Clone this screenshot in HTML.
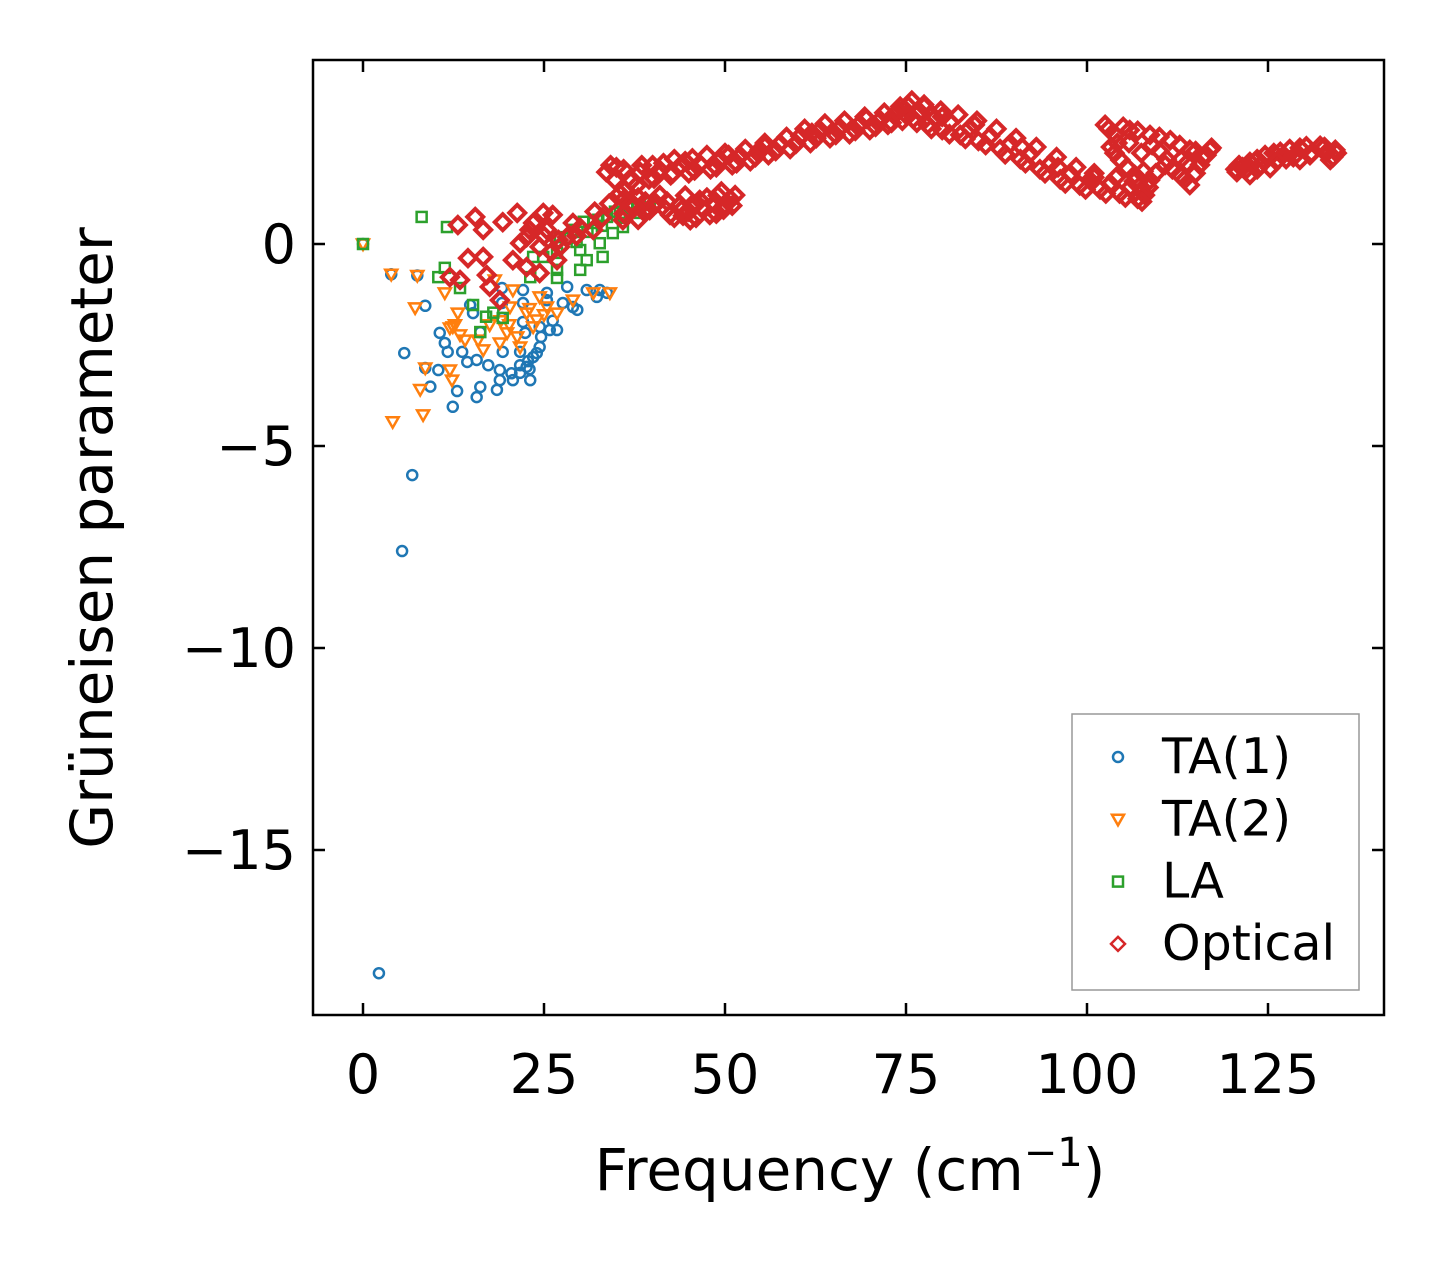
<!DOCTYPE html>
<html><head><meta charset="utf-8"><style>
body{margin:0;background:#fff}
svg text{font-family:"DejaVu Sans","Liberation Sans",sans-serif;fill:#000}
</style></head><body>
<svg id="chart" width="1443" height="1264" viewBox="0 0 1443 1264" xmlns="http://www.w3.org/2000/svg">
<rect width="1443" height="1264" fill="#fff"/>
<g id="marks"></g>
<rect x="313" y="60" width="1071" height="955" fill="none" stroke="#000" stroke-width="2.5"/>
<g id="axes"></g>
<text x="850" y="1190" font-size="58" text-anchor="middle">Frequency (cm<tspan font-size="40" dy="-24">−1</tspan><tspan dy="24">)</tspan></text>
<text transform="translate(112,538) rotate(-90)" font-size="58" text-anchor="middle">Grüneisen parameter</text>
<g>
<rect x="1072" y="714" width="287" height="276" fill="#fff" stroke="#999" stroke-width="1.5"/>
<g id="legend-items"></g>
</g>
</svg>
<script>
const xTicks=[0,25,50,75,100,125];
const yTicks=[0,-5,-10,-15];
const ta1=[[0,0],[3.9,-0.75],[7.5,-0.78],[2.2,-18.05],[5.4,-7.6],[6.8,-5.72],[5.7,-2.7],[8.6,-1.53],[8.6,-3.07],[9.3,-3.53],[10.4,-3.12],[12.4,-4.03],[13,-3.64],[10.6,-2.2],[11.3,-2.45],[11.7,-2.67],[13.7,-2.67],[14.4,-2.92],[15.7,-2.87],[16.2,-3.54],[15.7,-3.79],[18.5,-3.61],[17.3,-3.0],[19.3,-2.67],[21.7,-2.67],[18.9,-3.12],[18.9,-3.37],[20.7,-3.37],[21.7,-3.19],[22.6,-3.04],[23.5,-2.8],[24.4,-2.55],[16.2,-2.18],[14.8,-1.51],[15.2,-1.71],[19.2,-1.09],[19.2,-1.46],[19.2,-1.83],[22.1,-1.14],[22.1,-1.46],[22.1,-1.93],[22.4,-2.2],[24.4,-2.05],[25.8,-2.13],[26.8,-2.13],[25.4,-1.21],[25.4,-1.39],[28.2,-1.06],[27.6,-1.46],[29.6,-1.63],[29,-1.56],[30.9,-1.14],[32.7,-1.14],[33.7,-1.21],[32.3,-1.31],[21.7,-3.0],[23.1,-3.37],[24,-2.7],[23,-3.1],[22.8,-2.9],[24.6,-2.3],[26.2,-1.9],[20.5,-3.2]];
const ta2=[[0,0],[3.9,-0.75],[7.5,-0.78],[7.2,-1.58],[8.6,-3.07],[7.9,-3.6],[8.3,-4.23],[4.1,-4.4],[12,-3.12],[12.3,-3.37],[12,-2.08],[12.7,-2.0],[13.4,-2.25],[11.3,-1.21],[13.1,-1.71],[12.4,-2.05],[14.1,-2.38],[16.6,-2.62],[18.2,-0.89],[20.7,-1.14],[20.3,-1.56],[19.9,-2.2],[22.6,-1.71],[24,-1.88],[25.4,-1.56],[26.8,-1.71],[29,-1.39],[31.8,-1.21],[34.1,-1.21],[21.7,-2.55],[18.9,-2.45],[15.9,-2.38],[24.4,-1.31],[23.5,-2.05],[21.3,-2.3],[17.5,-2.0],[19,-1.9],[23,-1.6],[25,-1.75],[20.2,-2.0]];
const la=[[0,0],[8.1,0.67],[11.6,0.42],[11.3,-0.59],[10.4,-0.82],[13.4,-1.09],[15.2,-1.51],[16.2,-2.18],[19.3,-1.83],[17,-1.8],[18,-1.7],[23.5,-0.32],[24.9,-0.32],[26.8,-0.22],[26.8,-0.64],[26.8,-0.84],[23.1,-0.82],[28.2,0.15],[30,-0.15],[30,-0.64],[32.7,0.02],[33.1,-0.32],[30.9,-0.4],[31.8,0.52],[33.7,0.67],[35.5,0.77],[37.3,0.89],[39.6,1.01],[38.3,0.77],[35.9,0.42],[34.5,0.27],[29,0.35],[27.2,0.17],[32.5,0.6],[34.8,0.8],[36.5,0.95],[31,0.3],[29.5,0.05],[33,0.45],[36,0.65],[38,0.9],[30.5,0.55]];
const optical=[[33.6,1.78],[34.8,1.58],[36.2,1.34],[38.3,1.78],[41.0,1.83],[43.8,1.93],[46.5,1.98],[49.3,2.08],[52.1,2.18],[54.8,2.33],[57.6,2.48],[60.4,2.67],[63.1,2.82],[65.9,2.87],[68.6,2.97],[71.4,3.07],[73.5,3.22],[75.3,3.42],[76.9,3.27],[79.0,3.12],[81.1,3.02],[83.8,2.87],[86.6,2.67],[89.4,2.48],[92.1,2.23],[94.9,1.98],[97.7,1.73],[100.4,1.58],[103.2,1.49],[105.9,1.39],[108.0,1.21],
[35,1.9],[37,1.55],[39.5,1.6],[42.5,1.7],[45,1.75],[48,1.85],[51,1.95],[53.5,2.05],[56,2.2],[59,2.35],[61.8,2.5],[64.5,2.62],[67.2,2.72],[70,2.82],[72.5,2.95],[74.5,3.05],[76,3.1],[78,2.95],[80,2.82],[82.5,2.7],[85,2.55],[88,2.35],[90.8,2.1],[93.5,1.85],[96.3,1.6],[99,1.45],[101.8,1.35],[104.5,1.25],[107,1.12],
[40,1.95],[44.5,2.05],[50.5,2.2],[55.5,2.42],[62,2.75],[69.5,3.1],[74,3.3],[77.5,3.4],[80,3.15],[84.5,2.95],[91,2.4],[96,1.9],[101,1.65],
[34.2,1.95],[36,1.85],[38.5,1.95],[41.5,2.0],[43,2.1],[45.5,2.12],[47.5,2.2],[50,2.25],[52.8,2.35],[55.5,2.5],[58.5,2.65],[61,2.85],[63.8,2.98],[66.5,3.05],[69.3,3.15],[72,3.25],[74.2,3.4],[75.8,3.55],[77.5,3.45],[79.8,3.3],[82.2,3.2],[84.8,3.05],[87.5,2.85],[90.2,2.62],[93,2.4],[95.8,2.15],[98.5,1.9],[101,1.75],[104,1.65],[106.5,1.55],[108.5,1.4],
[35.5,1.25],[37.8,1.45],[40.2,1.62],[42.8,1.75],[45.8,1.82],[48.8,1.9],[51.6,2.0],[54.2,2.15],[57,2.3],[59.8,2.48],[62.6,2.62],[65.3,2.7],[68,2.8],[70.8,2.9],[73,3.0],[75,3.2],[76.5,3.0],[78.5,2.85],[81,2.72],[83.2,2.6],[86,2.45],[88.7,2.22],[91.5,2.0],[94.2,1.75],[97,1.5],[99.8,1.35],[102.6,1.25],[105.3,1.15],[107.6,1.05],
[102.5,2.95],[103.9,2.70],[105.9,2.82],[108.7,2.70],[111.5,2.57],[114.2,2.33],[117,2.33],[104.6,2.08],[106.6,1.71],[108.7,1.58],[110.8,1.96],[112.8,1.71],[114.2,1.46],[115.6,1.96],[103.3,2.4],[107.5,2.25],[110,2.3],[113,2.1],[116,2.15],
[103,2.85],[104.2,2.5],[105,2.9],[107,2.8],[110,2.65],[112.8,2.45],[115,2.3],[116.5,2.2],[105.5,1.9],[107.8,1.8],[109.5,1.75],[111.8,1.85],[113.5,1.6],[115,1.75],[103.8,2.25],[105.8,2.5],[109,2.45],[111,2.1],[113.8,2.0],[117.2,2.38],
[120.7,1.78],[122.5,2.03],[124.6,2.20],[126.7,2.28],[129.4,2.38],[132.2,2.43],[134.3,2.33],[122.5,1.71],[125.3,1.88],[129.4,2.08],[133.6,2.08],[121.5,1.9],[123.5,1.85],[127.5,2.1],[131,2.25],[134,2.15],
[121,1.95],[122,1.85],[123.5,2.1],[124,1.95],[125.8,2.25],[126.2,2.05],[128,2.35],[128.5,2.15],[130.3,2.42],[130.8,2.2],[132.8,2.4],[133,2.25],[134.5,2.25],[120.5,1.85],
[36.9,0.97],[39.6,0.84],[42.4,0.72],[45.2,0.59],[47.9,0.72],[50,0.97],[51.4,1.21],[46.5,1.09],[41,1.21],[43.8,0.97],[38,1.15],[44.5,1.2],[48.5,1.0],[49.5,1.3],[45,0.8],[40.5,1.0],
[36,1.1],[37.5,0.95],[38.8,0.8],[40,0.95],[41.8,0.85],[43,0.65],[44.2,0.7],[46,0.65],[47,0.85],[48.8,0.75],[49.8,0.85],[50.8,1.1],[51,0.95],[42,1.05],[45.8,0.95],[47.5,1.15],[49,1.2],[39,1.05],[44,0.85],
[13.1,0.47],[15.5,0.67],[16.6,0.35],[19.3,0.54],[21.3,0.77],[24.9,0.77],[26.2,0.72],[14.5,-0.35],[16.6,-0.32],[20.7,-0.40],[17.1,-0.77],[12,-0.82],[13.4,-0.89],[17.5,-1.06],[18.9,-1.39],[22.6,0.17],[21.7,0.02],[24.4,-0.07],[22.6,-0.57],[24.4,-0.72],[26.8,-0.40],[23.5,0.52],[29,0.52],[27.2,-0.07],[31.8,0.35],[35.9,0.59],[25.4,0.35],[28.2,0.17],[30,0.4],[32,0.8],[34,1.0],[36,0.75],[38,0.6],[27,0.1],[25,0.2],[23,0.35],[26,-0.2],[29.5,0.2],[33,0.65]];

const X=v=>363+v*7.24, Y=v=>244-v*40.4;
const NS='http://www.w3.org/2000/svg';
const marks=document.getElementById('marks');
function mk(tag,attrs,parent){const e=document.createElementNS(NS,tag);for(const k in attrs)e.setAttribute(k,attrs[k]);parent.appendChild(e);return e;}
function marker(kind,cx,cy,color,parent,big){
  let e;
  if(kind==='o') e=mk('circle',{cx:cx,cy:cy,r:5,fill:'none',stroke:color,'stroke-width':2.5},parent);
  else if(kind==='v') e=mk('polygon',{points:`${cx-6},${cy-4.5} ${cx+6},${cy-4.5} ${cx},${cy+6}`,fill:'none',stroke:color,'stroke-width':2.5},parent);
  else if(kind==='s') e=mk('rect',{x:cx-5,y:cy-5,width:10,height:10,fill:'none',stroke:color,'stroke-width':2.5},parent);
  else {const s=big?8:7; e=mk('polygon',{points:`${cx},${cy-s} ${cx+s},${cy} ${cx},${cy+s} ${cx-s},${cy}`,fill:'none',stroke:color,'stroke-width':big?4:2.5},parent);}
  return e;
}
const series=[['optical',optical,'d','#d62728'],['ta1',ta1,'o','#1f77b4'],['ta2',ta2,'v','#ff7f0e'],['la',la,'s','#2ca02c']];
const order=[1,2,3,0];
order.forEach(i=>{const [nm,arr,k,c]=series[i];
  const g=mk('g',{},marks);
  
  
  arr.forEach(p=>{const e=marker(k,X(p[0]),Y(p[1]),c,g,true);
    
    
  });
});
const axes=document.getElementById('axes');
xTicks.forEach(t=>{const x=X(t);
  const l=mk('path',{d:`M${x},1015 v-12 M${x},60 v12`,stroke:'#000','stroke-width':2.5},axes);
  
  
  const tx=mk('text',{x:x,y:1093,'font-size':54,'text-anchor':'middle'},axes);tx.textContent=String(t);
  
  
});
yTicks.forEach(t=>{const y=Y(t);
  const l=mk('path',{d:`M313,${y} h12 M1384,${y} h-12`,stroke:'#000','stroke-width':2.5},axes);
  
  
  const tx=mk('text',{x:296,y:y+19,'font-size':54,'text-anchor':'end'},axes);tx.textContent=t<0?'−'+(-t):String(t);
  
  
});
const leg=document.getElementById('legend-items');
const legendLabels=['TA(1)','TA(2)','LA','Optical'];
const legendKinds=[['o','#1f77b4'],['v','#ff7f0e'],['s','#2ca02c'],['d','#d62728']];
legendLabels.forEach((lab,i)=>{const y=757+i*62.3;
  const g=mk('g',{},leg);
  
  
  marker(legendKinds[i][0],1118,y,legendKinds[i][1],g,false);
  const t=mk('text',{x:1162,y:y+16,'font-size':49},g);t.textContent=lab;
});
</script>
</body></html>
